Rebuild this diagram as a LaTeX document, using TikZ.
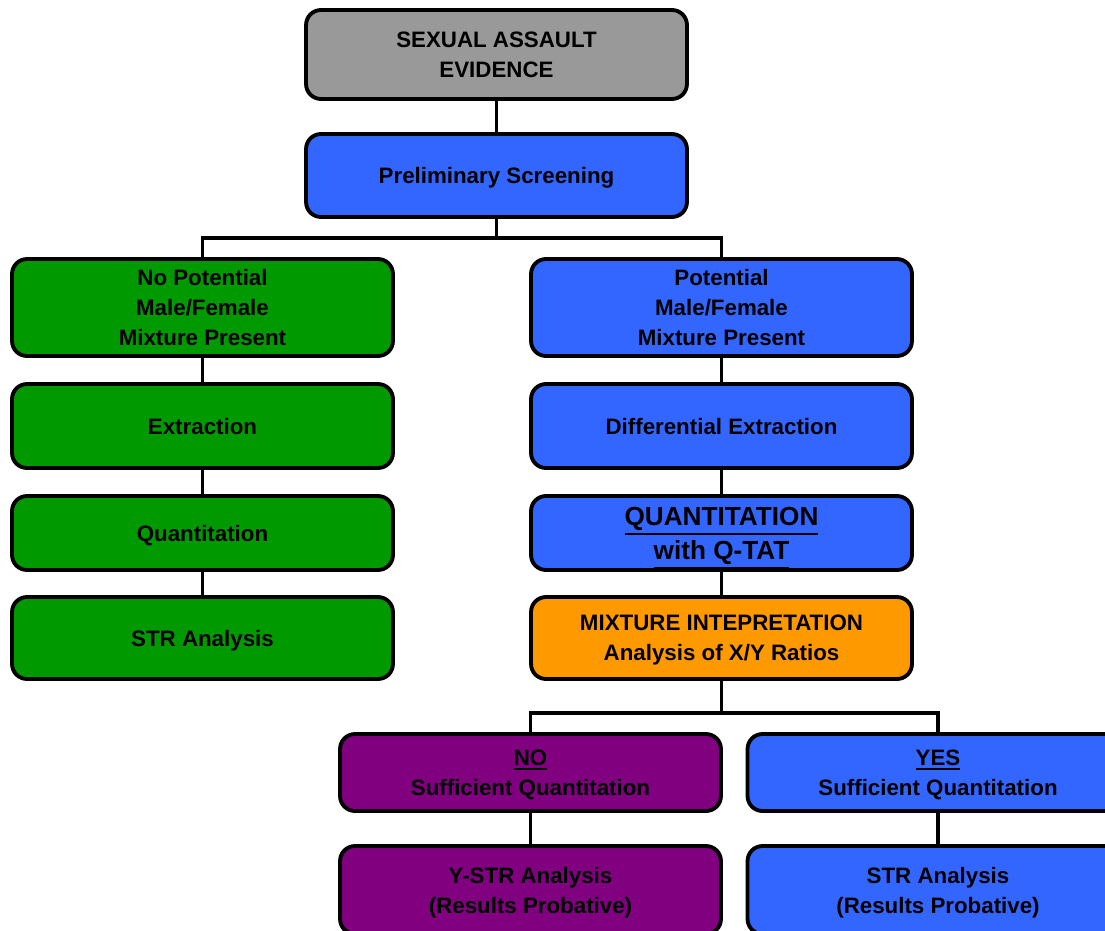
\documentclass[tikz,border=0pt]{standalone}
\usepackage{fontspec}
\setmainfont{Liberation Sans}
\newcommand{\ulword}[1]{\leavevmode\vtop{\hbox{#1}\kern1.3pt\hrule height 1.1pt}}

\begin{document}
\begin{tikzpicture}[x=0.02cm,y=-0.02cm,
    flowbox/.style={shape=rectangle,draw,line width=2.2pt,rounded corners=0.3cm,minimum width=7.62cm,inner sep=0pt,text depth=-3.4pt,align=center,font=\bfseries\fontsize{12.7}{17}\selectfont},
    link/.style={line width=2pt}]
    \definecolor{sa_grey}{RGB}{153,153,153}
    \definecolor{sa_blue}{RGB}{51,102,255}
    \definecolor{sa_green}{RGB}{0,153,0}
    \definecolor{sa_orange}{RGB}{255,153,0}
    \definecolor{sa_purple}{RGB}{128,0,128}
    \clip (0,0) rectangle (1105,930);
    \node[flowbox,fill=sa_grey,minimum height=1.78cm] (evidence) at (496.5,54.5) {SEXUAL ASSAULT\\EVIDENCE};
    \node[flowbox,fill=sa_blue,minimum height=1.66cm] (screen) at (496.5,175.5) {Preliminary Screening};
    \node[flowbox,fill=sa_green,minimum height=1.94cm] (nomix) at (202.5,307.5) {No Potential\\Male/Female\\Mixture Present};
    \node[flowbox,fill=sa_green,minimum height=1.68cm] (extract) at (202.5,426) {Extraction};
    \node[flowbox,fill=sa_green,minimum height=1.48cm] (quant) at (202.5,533) {Quantitation};
    \node[flowbox,fill=sa_green,minimum height=1.64cm] (str) at (202.5,638) {STR Analysis};
    \node[flowbox,fill=sa_blue,minimum height=1.94cm] (mix) at (721.5,307.5) {Potential\\Male/Female\\Mixture Present};
    \node[flowbox,fill=sa_blue,minimum height=1.68cm] (diffext) at (721.5,426) {Differential Extraction};
    \node[flowbox,fill=sa_blue,minimum height=1.48cm,text depth=-4.5pt,font=\bfseries\fontsize{14.9}{19.3}\selectfont] (qtat) at (721.5,533) {\ulword{QUANTITATION}\\\ulword{with Q-TAT}};
    \node[flowbox,fill=sa_orange,minimum height=1.64cm] (interp) at (721.5,638) {MIXTURE INTEPRETATION\\Analysis of X/Y Ratios};
    \node[flowbox,fill=sa_purple,minimum height=1.54cm] (nosuff) at (530.5,772.5) {\ulword{NO}\\Sufficient Quantitation};
    \node[flowbox,fill=sa_blue,minimum height=1.54cm] (yessuff) at (938,772.5) {\ulword{YES}\\Sufficient Quantitation};
    \node[flowbox,fill=sa_purple,minimum height=1.76cm] (ystr) at (530.5,890) {Y-STR Analysis\\(Results Probative)};
    \node[flowbox,fill=sa_blue,minimum height=1.76cm] (strprob) at (938,890) {STR Analysis\\(Results Probative)};
    \coordinate (split1) at (496.5,238);
    \coordinate (split2) at (721.5,713);
    \draw[link] (evidence) -- (screen);
    \draw[link] (screen) -- (split1);
    \draw[link] (nomix.north) |- (split1) -| (mix.north);
    \draw[link] (nomix) -- (extract);
    \draw[link] (extract) -- (quant);
    \draw[link] (quant) -- (str);
    \draw[link] (mix) -- (diffext);
    \draw[link] (diffext) -- (qtat);
    \draw[link] (qtat) -- (interp);
    \draw[link] (interp) -- (split2);
    \draw[link] (nosuff.north) |- (split2) -| (yessuff.north);
    \draw[link] (nosuff) -- (ystr);
    \draw[link] (yessuff) -- (strprob);
\end{tikzpicture}
\end{document}
